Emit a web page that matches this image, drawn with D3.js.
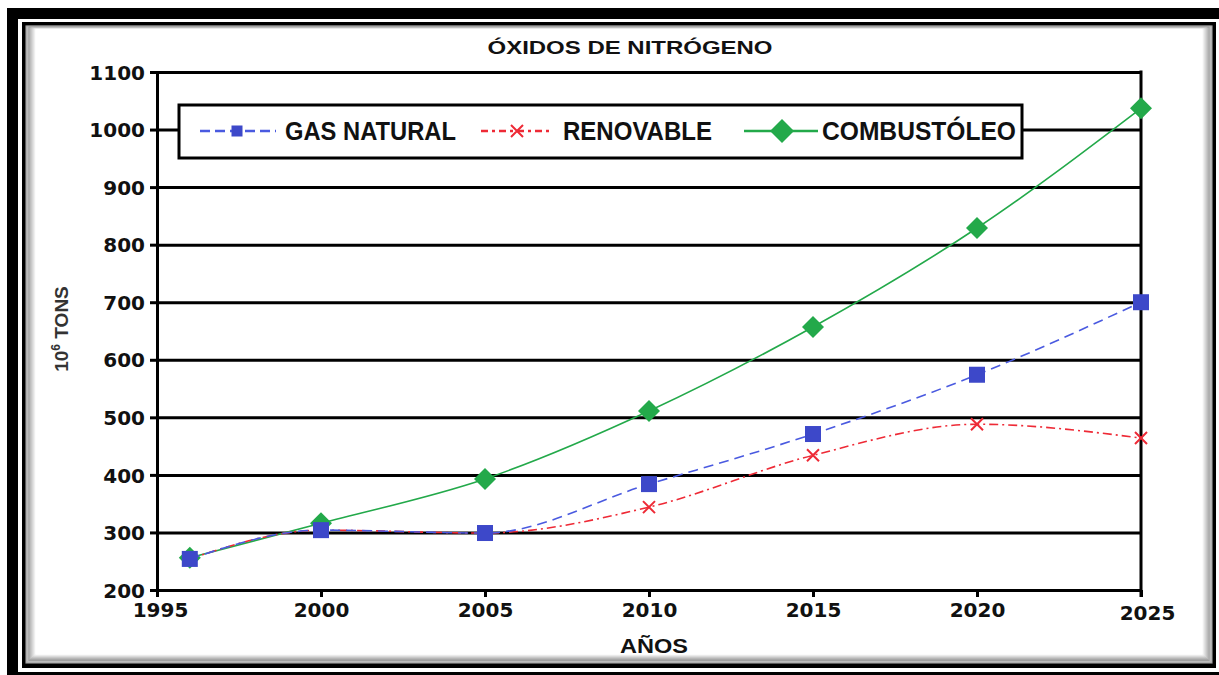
<!DOCTYPE html>
<html><head><meta charset="utf-8">
<script src="https://cdn.jsdelivr.net/npm/d3@7"></script>
<style>html,body{margin:0;padding:0;background:#fff;} svg{display:block;}</style>
</head><body>
<svg id="c" width="1219" height="675"></svg>
<script>
const years = [1996, 2000, 2005, 2010, 2015, 2020, 2025];
const gasNatural = [254, 304, 299, 384, 471, 574, 700];
const renovable = [254, 304, 299, 344, 434, 488, 464];
const combustoleo = [256, 316, 393, 511, 657, 829, 1037];
const xTicks = [1995, 2000, 2005, 2010, 2015, 2020, 2025];
const yTicks = [200, 300, 400, 500, 600, 700, 800, 900, 1000, 1100];
const seriesNames = ["GAS NATURAL", "RENOVABLE", "COMBUSTÓLEO"];

const svg = d3.select("#c");

// frame
svg.append("rect").attr("x",7).attr("y",8).attr("width",1212).attr("height",667).attr("fill","#000");
svg.append("rect").attr("x",18).attr("y",19).attr("width",1201).attr("height",653).attr("fill","#fff");
svg.append("rect").attr("x",22).attr("y",22).attr("width",1194).attr("height",646).attr("fill","#000");
const shade = d3.scaleLinear().domain([0,10]).range(["#6a6a6a","#ffffff"]);
for (let i = 0; i <= 10; i++) {
  const t = i * 0.35, l = i, r = i, b = i * 0.9;
  svg.append("rect").attr("x",26+l).attr("y",26+t).attr("width",1186-l-r).attr("height",637-t-b)
    .attr("fill", "#fff").attr("stroke", i < 3 ? shade(i+3) : shade(i)).attr("stroke-width",1.2);
}

const x = d3.scaleLinear().domain([1995, 2025]).range([157, 1141]);
const y = d3.scaleLinear().domain([200, 1100]).range([590, 72]);

const fontNum = "'DejaVu Sans', sans-serif";

// gridlines
svg.append("g").attr("transform","translate(157,0)")
  .call(d3.axisLeft(y).tickValues(yTicks).tickSize(-(1141-157)).tickFormat(""))
  .call(g => g.select(".domain").remove())
  .call(g => g.selectAll("line").attr("stroke","#000").attr("stroke-width",3));
// right border
svg.append("line").attr("x1",1141).attr("x2",1141).attr("y1",y(1100)-1.5).attr("y2",y(200)+7)
  .attr("stroke","#000").attr("stroke-width",3);

// y axis
svg.append("g").attr("transform","translate(157,0)")
  .call(d3.axisLeft(y).tickValues(yTicks).tickFormat(d3.format("d")).tickSize(7).tickPadding(5).tickSizeOuter(0))
  .call(g => g.select(".domain").attr("stroke","#000").attr("stroke-width",3))
  .call(g => g.selectAll(".tick line").attr("stroke","#000").attr("stroke-width",3))
  .call(g => g.selectAll("text").attr("font-family",fontNum).attr("font-weight","bold")
    .attr("font-size",20).attr("fill","#111").attr("dy","0.36em"));

// x axis
svg.append("g").attr("transform","translate(0,590)")
  .call(d3.axisBottom(x).tickValues(xTicks).tickFormat(d3.format("d")).tickSize(7).tickPadding(6).tickSizeOuter(0))
  .call(g => g.select(".domain").attr("stroke","#000").attr("stroke-width",3))
  .call(g => g.selectAll(".tick line").attr("stroke","#000").attr("stroke-width",3))
  .call(g => g.selectAll("text").attr("font-family",fontNum).attr("font-weight","bold")
    .attr("font-size",20).attr("fill","#111")
    .attr("dx", d => d===2025 ? 6 : (d===1995 ? 3 : 0))
    .attr("dy", d => d===2025 ? "0.86em" : "0.71em"));

// titles
svg.append("text").attr("x",630).attr("y",54).attr("text-anchor","middle")
  .attr("font-family","'Liberation Sans', Arial, sans-serif").attr("font-weight","bold").attr("font-size",19)
  .attr("fill","#111").attr("textLength",285).attr("lengthAdjust","spacingAndGlyphs").text("ÓXIDOS DE NITRÓGENO");
svg.append("text").attr("x",654).attr("y",653).attr("text-anchor","middle")
  .attr("font-family","'Liberation Sans', Arial, sans-serif").attr("font-weight","bold").attr("font-size",21)
  .attr("fill","#111").attr("textLength",68).attr("lengthAdjust","spacingAndGlyphs").text("AÑOS");
const yl = svg.append("text").attr("transform","translate(68,329) rotate(-90)").attr("text-anchor","middle")
  .attr("font-family","'Liberation Sans', Arial, sans-serif").attr("font-weight","bold").attr("font-size",19)
  .attr("fill","#333");
yl.append("tspan").text("10");
yl.append("tspan").attr("dy",-8).attr("font-size",12).text("6");
yl.append("tspan").attr("dy",8).text(" TONS");

// series
const blue = "#3d48c9", blueLine = "#4a5ae0", red = "#ee2a36", green = "#23a94a";
const line = d3.line().x(d => x(d[0])).y(d => y(d[1])).curve(d3.curveMonotoneX);
const pts = vals => years.map((yr,i) => [yr, vals[i]]);

function diamond(g, cx, cy, r, col) {
  g.append("path").attr("d", `M${cx},${cy-r}L${cx+r},${cy}L${cx},${cy+r}L${cx-r},${cy}Z`).attr("fill",col);
}
function square(g, cx, cy, s, col) {
  g.append("rect").attr("x",cx-s/2).attr("y",cy-s/2).attr("width",s).attr("height",s).attr("fill",col);
}
function cross(g, cx, cy, s, col) {
  g.append("path").attr("d",`M${cx-s},${cy-s}L${cx+s},${cy+s}M${cx-s},${cy+s}L${cx+s},${cy-s}`)
    .attr("stroke",col).attr("stroke-width",2).attr("fill","none");
}

const gG = svg.append("g");
gG.append("path").attr("d", line(pts(combustoleo))).attr("fill","none").attr("stroke",green).attr("stroke-width",1.6);
pts(combustoleo).forEach(p => diamond(gG, x(p[0]), y(p[1]), 11, green));

const gR = svg.append("g");
gR.append("path").attr("d", line(pts(renovable))).attr("fill","none").attr("stroke",red).attr("stroke-width",1.6)
  .attr("stroke-dasharray","9,4,2,4");
pts(renovable).forEach(p => cross(gR, x(p[0]), y(p[1]), 6, red));

const gB = svg.append("g");
gB.append("path").attr("d", line(pts(gasNatural))).attr("fill","none").attr("stroke",blueLine).attr("stroke-width",1.6)
  .attr("stroke-dasharray","10,6");
pts(gasNatural).forEach(p => square(gB, x(p[0]), y(p[1]), 16, blue));

// legend
const lg = svg.append("g");
lg.append("rect").attr("x",179).attr("y",105).attr("width",843).attr("height",53)
  .attr("fill","#fff").attr("stroke","#000").attr("stroke-width",3);
const ly = 131;
const legFont = "'Liberation Sans Narrow', 'Liberation Sans', Arial, sans-serif";
lg.append("line").attr("x1",200).attr("x2",276).attr("y1",ly).attr("y2",ly).attr("stroke",blueLine).attr("stroke-width",2.5).attr("stroke-dasharray","10,5");
square(lg, 237, ly, 11, blue);
lg.append("line").attr("x1",481).attr("x2",552).attr("y1",ly).attr("y2",ly).attr("stroke",red).attr("stroke-width",2.5).attr("stroke-dasharray","7,4,3,4");
cross(lg, 517, ly, 6, red);
lg.append("line").attr("x1",744).attr("x2",818).attr("y1",ly).attr("y2",ly).attr("stroke",green).attr("stroke-width",2.5);
diamond(lg, 782, ly, 12, green);
const legText = [[285,171],[563,149],[822,194]];
seriesNames.forEach((n,i) => {
  lg.append("text").attr("x",legText[i][0]).attr("y",ly+9).attr("font-family",legFont).attr("font-weight","bold")
    .attr("font-size",25).attr("fill","#111").attr("textLength",legText[i][1]).attr("lengthAdjust","spacingAndGlyphs").text(n);
});
</script>
</body></html>
